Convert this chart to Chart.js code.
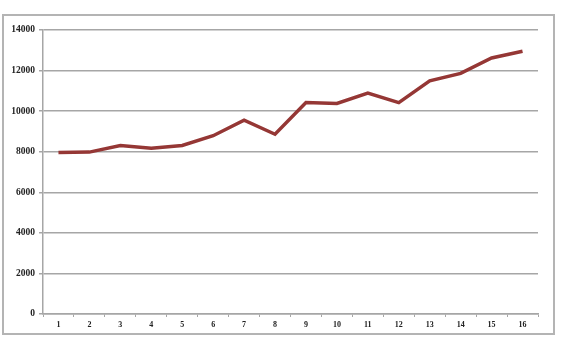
<!DOCTYPE html>
<html>
<head>
<meta charset="utf-8">
<script src="https://cdn.jsdelivr.net/npm/chart.js@4/dist/chart.umd.min.js"></script>
<style>
body{margin:0;background:#fff;width:565px;height:341px;overflow:hidden;}
canvas{display:block;}
</style>
</head>
<body>
<canvas id="lineChart" width="565" height="341"></canvas>
<script>
// categories and values
const periods = ['1','2','3','4','5','6','7','8','9','10','11','12','13','14','15','16'];
const values = [7960,7980,8300,8170,8310,8790,9560,8860,10430,10380,10890,10420,11490,11860,12620,12950];
const yTicks = [0,2000,4000,6000,8000,10000,12000,14000];

const gridGray = '#a6a6a6';

// outer frame of the chart
const frame = {
id:'frame',
beforeDraw(chart){
const c = chart.ctx;
c.save();
c.strokeStyle = '#b4b4b4';
c.lineWidth = 2;
c.strokeRect(3,15,551,319);
c.restore();
}
};

new Chart(document.getElementById("lineChart"),{
type:'line',
data:{
labels:periods,
datasets:[{
data:values,
borderColor:'#953735',
borderWidth:3.5,
pointRadius:0,
tension:0,
fill:false
}]
},
options:{
responsive:false,
animation:false,
layout:{padding:{left:0,right:27,top:30,bottom:0}},
plugins:{legend:{display:false},tooltip:{enabled:false}},
scales:{
x:{
offset:true,
grid:{offset:true,drawOnChartArea:false,drawTicks:true,tickLength:3,color:gridGray},
border:{color:gridGray,width:1.5},
ticks:{color:'#222',font:{family:'Liberation Serif',size:8,weight:'bold'},padding:3,maxRotation:0},
afterFit:s=>{s.height=27;}
},
y:{
min:0,max:14000,
afterBuildTicks:s=>{s.ticks=yTicks.map(v=>({value:v}));},
grid:{color:gridGray,lineWidth:1.5,drawTicks:true,tickLength:4},
border:{color:gridGray,width:1.5},
ticks:{color:'#222',font:{family:'Liberation Serif',size:9.5,weight:'bold'},padding:4,callback:v=>String(v)},
afterFit:s=>{s.width=43;}
}
}
},
plugins:[frame]
});
</script>
</body>
</html>
